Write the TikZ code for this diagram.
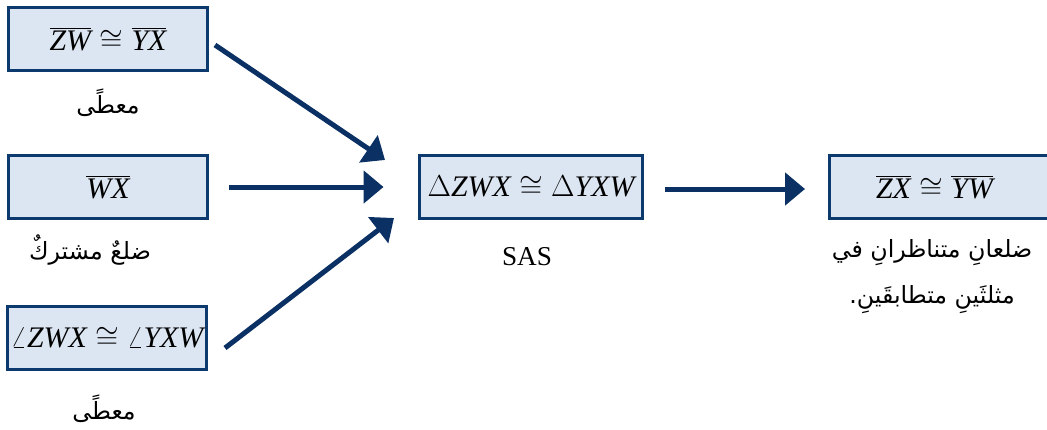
\documentclass[tikz,border=0pt]{standalone}
\usepackage{fontspec}
\setmainfont{Liberation Serif}
\newfontfamily\arabicfont[Script=Arabic]{DejaVu Sans}
\TeXXeTstate=1
\usepackage{tikz}
\usetikzlibrary{arrows.meta}
\definecolor{boxnavy}{HTML}{0C3A6E}
\definecolor{boxfill}{HTML}{DCE6F3}
\definecolor{arrnavy}{HTML}{0A3064}

\begin{document}
\begin{tikzpicture}[x=0.02cm, y=-0.02cm,
  stmt/.style={draw=boxnavy, fill=boxfill, line width=0.06cm, minimum width=4cm,
    minimum height=1.28cm, inner sep=1pt, font=\fontsize{17}{20}\selectfont},
  reason/.style={font=\fontsize{15.5}{18}\selectfont},
  arab/.style={font=\fontsize{13.5}{16}\selectfont\arabicfont},
  conn/.style={arrnavy, line width=0.1cm, -{Triangle[length=0.4cm,width=0.64cm]}}]
  \useasboundingbox (0,0) rectangle (1047,429);

  % Aussagen
  \node[stmt] (g1) at (108,39) {$\overline{\textit{ZW}}\cong\overline{\textit{YX}}$};
  \node[stmt] (g2) at (108,187) {$\overline{\textit{WX}}$};
  \node[stmt] (g3) at (107,338) {$\angle\textit{ZWX}\cong\angle\textit{YXW}$};
  \node[stmt, minimum width=4.48cm] (tri) at (531,187) {$\Delta\textit{ZWX}\cong\Delta\textit{YXW}$};
  \node[stmt, minimum width=4.6cm, anchor=west] (res) at (828,187) {\hspace*{-0.4cm}$\overline{\textit{ZX}}\cong\overline{\textit{YW}}$};

  % Begruendungen
  \node[arab] (r1) at (108,103) {\beginR معطًى\endR};
  \node[arab] (r2) at (90,250) {\beginR ضلعٌ مشتركٌ\endR};
  \node[arab] (r3) at (104,409) {\beginR معطًى\endR};
  \node[reason] (r4) at (527,257) {SAS};
  \node[arab] (r5) at (932,253) {\beginR ضلعانِ متناظرانِ في\endR};
  \node[arab] (r6) at (932,300) {\beginR مثلثَينِ متطابقَينِ.\endR};

  % Pfeile
  \coordinate (a1) at (215,45);
  \coordinate (b1) at (385,160);
  \coordinate (a3) at (225,348);
  \coordinate (b3) at (394,218);
  \draw[conn] (a1) -- (b1);
  \draw[conn, shorten <=0.4cm, shorten >=0.68cm] (g2.east) -- (tri.west);
  \draw[conn] (a3) -- (b3);
  \draw[conn, shorten <=0.42cm, shorten >=0.46cm] ([yshift=-0.04cm]tri.east) -- ([yshift=-0.04cm]res.west);
\end{tikzpicture}
\end{document}
